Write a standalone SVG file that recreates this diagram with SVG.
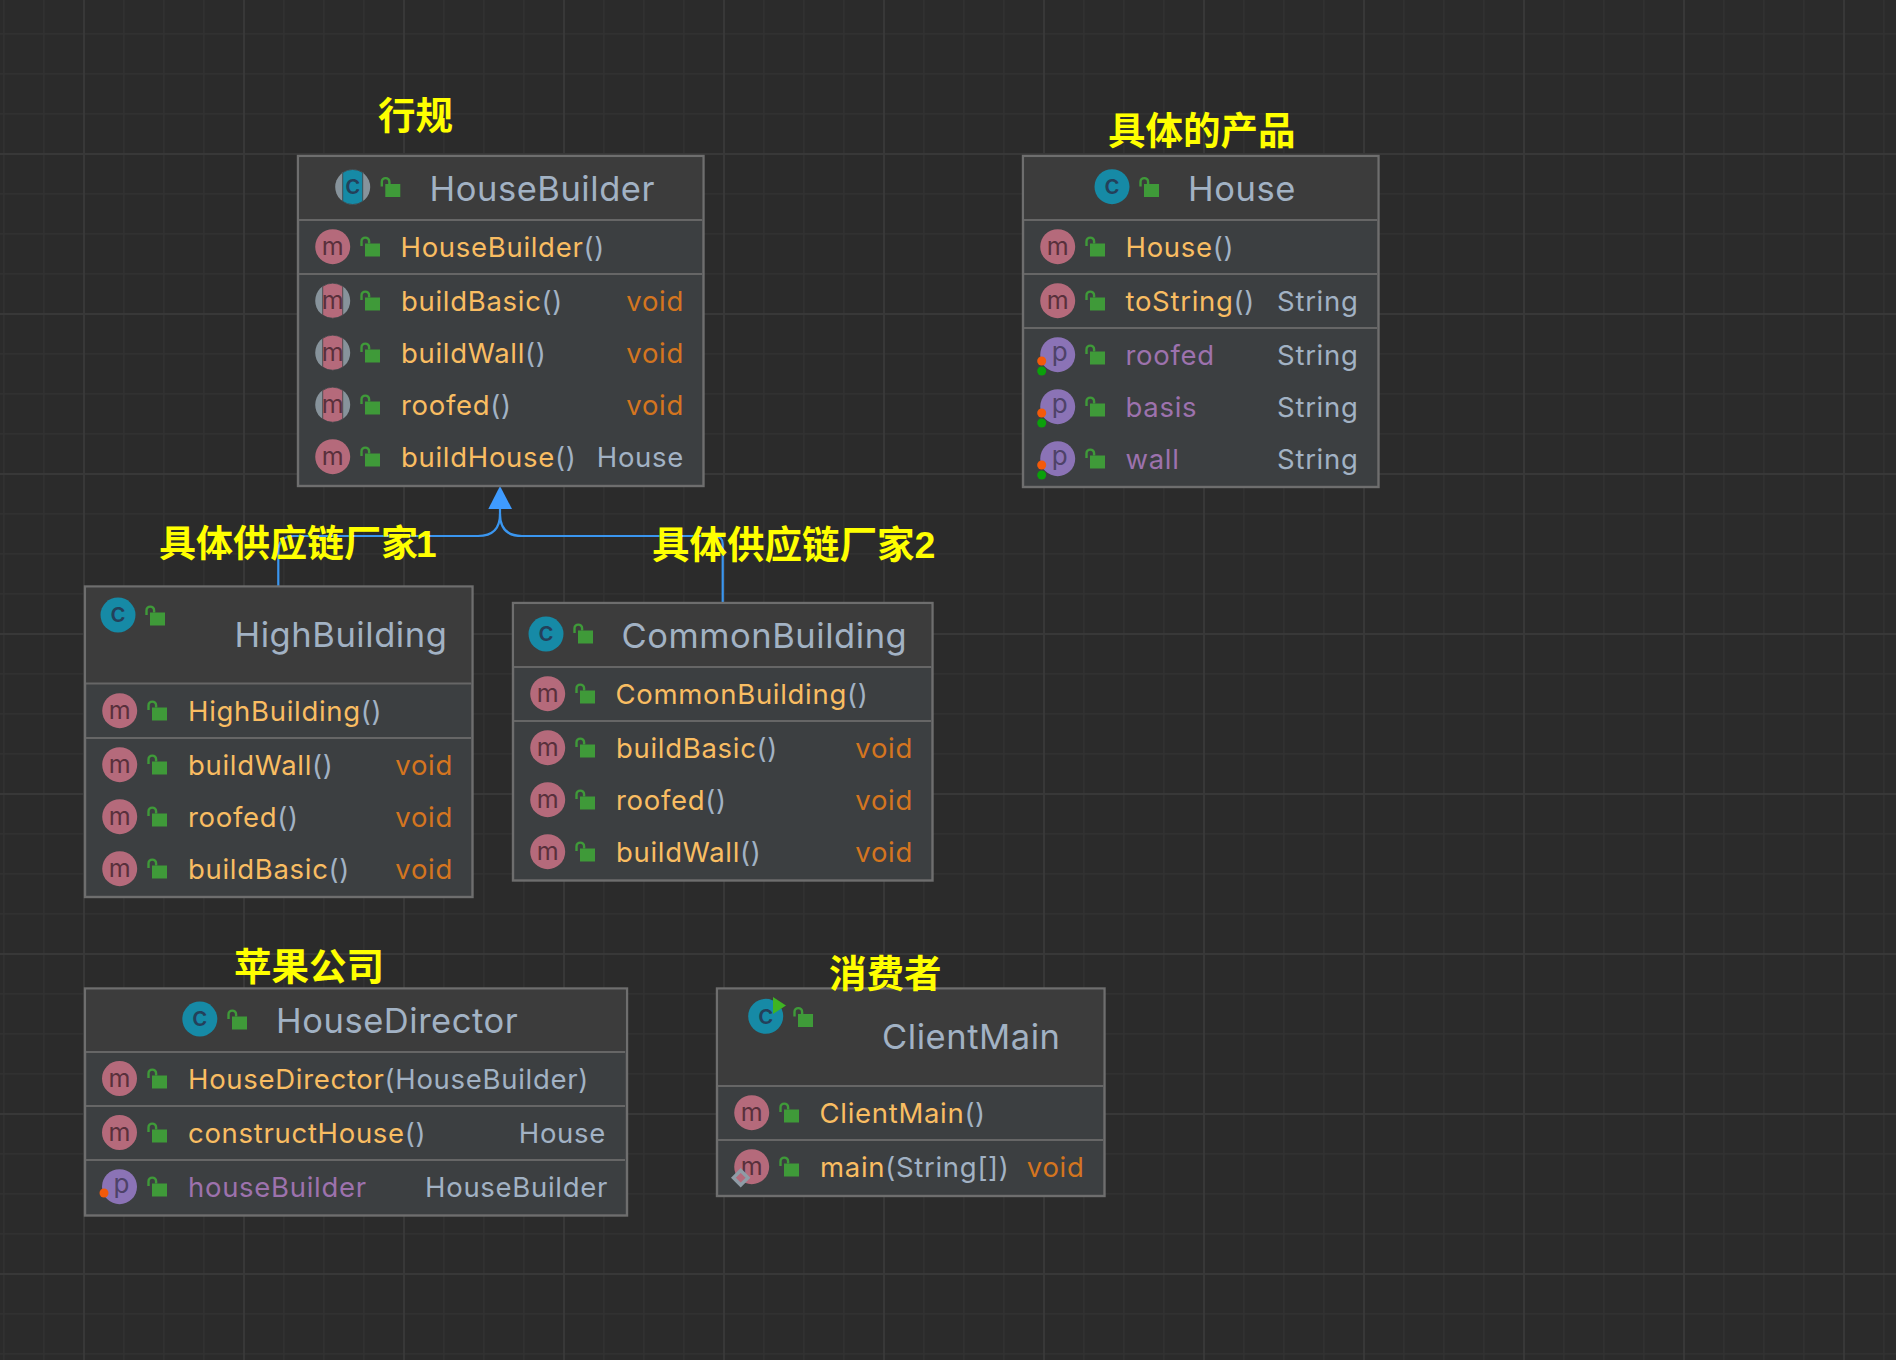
<svg xmlns="http://www.w3.org/2000/svg" width="1896" height="1360" viewBox="0 0 1896 1360">
<style>
text{font-family:Inter,"Noto Sans",sans-serif}
.box{fill:#3c3f41;stroke:#6e6e6e;stroke-width:2.4}
.head{fill:#3c3c3c}
.sep{stroke:#666;stroke-width:2}
.title{font-size:34.5px;letter-spacing:.55px;fill:#a2b2c4}
.mem{font-size:27.5px;letter-spacing:.7px}
.fn{fill:#f9bd62}
.par{fill:#a2b2c4}
.ty{fill:#a2b2c4}
.vo{fill:#d4751f}
.pr{fill:#9d72ad}
.end{text-anchor:end}
.ic{font-size:25px;text-anchor:middle}
.mi{fill:#b56a7b}
.ci{fill:#168aa6}
.pi{fill:#8b73b6}
.gr{fill:#87939b}
.ml{fill:#59303c}
.cl{fill:#24405a;font-size:27px;font-weight:500}
.pl{fill:#4e4268;font-size:26px}
.or{fill:#f35a0a}
.gn{fill:#0ba00b}
.lbl{font-family:"Liberation Sans","Noto Sans CJK SC",sans-serif;font-size:37.5px;font-weight:700;fill:#ffff00}
.lk{fill:none;stroke:#3f9a39;stroke-width:2.4}
.conn{fill:none;stroke:#3a96f0;stroke-width:2.2}
</style>
<defs>
<pattern id="minor" patternUnits="userSpaceOnUse" x="3" y="-7" width="40" height="40"><rect width="40" height="40" fill="#2b2b2b"/><rect width="1.6" height="40" fill="#313131"/><rect width="40" height="1.6" fill="#313131"/></pattern>
<pattern id="major" patternUnits="userSpaceOnUse" x="83" y="153" width="160" height="160"><rect width="2" height="160" fill="#383838"/><rect width="160" height="2" fill="#383838"/></pattern>
<g id="lock"><rect x="0" y="-3.5" width="15" height="13" fill="#3f9a39"/><path class="lk" d="M-3.5,-1 V-5.6 a3.8,3.8 0 0 1 7.6,0 V-3.5"/></g>
<path id="band" d="M-10,-14.4 A17.5,17.5 0 0 1 10,-14.4 V14.4 A17.5,17.5 0 0 1 -10,14.4 Z" stroke="#3c3f41" stroke-width="0.8"/>
</defs>
<rect width="1896" height="1360" fill="url(#minor)"/>
<rect width="1896" height="1360" fill="url(#major)"/>

<g id="connectors">
<path class="conn" d="M278.3,586 V552 Q278.3,536 294,536 H478 Q500,536 500,514 V506"/>
<path class="conn" d="M722.7,602.5 V544 Q722.7,536 714,536 H522 Q500,536 500,514"/>
<path d="M500,486 L488.3,509 H512 Z" fill="#3f9bff"/>
</g>

<g id="HouseBuilder">
<rect class="box" x="298" y="156" width="405.5" height="330"/>
<rect class="head" x="299.2" y="157.2" width="403" height="62"/>
<line class="sep" x1="299" x2="702" y1="220" y2="220"/><line class="sep" x1="299" x2="702" y1="274" y2="274"/>
<circle class="gr" cx="352.7" cy="187" r="17.5"/><use href="#band" class="ci" x="352.7" y="187"/><text class="ic cl" x="352.7" y="194">c</text><use href="#lock" x="385.3" y="187.5"/>
<text class="title" x="429.5" y="200.5">HouseBuilder</text>
<circle class="mi" cx="332.7" cy="246.7" r="17.5"/><text class="ic ml" x="332.7" y="254.7">m</text><use href="#lock" x="365" y="247"/>
<text class="mem fn" x="400.5" y="256.7">HouseBuilder<tspan class="par">()</tspan></text>
<circle class="gr" cx="332.7" cy="300.7" r="17.5"/><use href="#band" class="mi" x="332.7" y="300.7"/><text class="ic ml" x="332.7" y="308.7">m</text><use href="#lock" x="365" y="301"/>
<text class="mem fn" x="401" y="310.5">buildBasic<tspan class="par">()</tspan></text><text class="mem vo end" x="684" y="310.5">void</text>
<circle class="gr" cx="332.7" cy="352.7" r="17.5"/><use href="#band" class="mi" x="332.7" y="352.7"/><text class="ic ml" x="332.7" y="360.7">m</text><use href="#lock" x="365" y="353"/>
<text class="mem fn" x="401" y="362.5">buildWall<tspan class="par">()</tspan></text><text class="mem vo end" x="684" y="362.5">void</text>
<circle class="gr" cx="332.7" cy="404.7" r="17.5"/><use href="#band" class="mi" x="332.7" y="404.7"/><text class="ic ml" x="332.7" y="412.7">m</text><use href="#lock" x="365" y="405"/>
<text class="mem fn" x="401" y="414.5">roofed<tspan class="par">()</tspan></text><text class="mem vo end" x="684" y="414.5">void</text>
<circle class="mi" cx="332.7" cy="456.7" r="17.5"/><text class="ic ml" x="332.7" y="464.7">m</text><use href="#lock" x="365" y="457"/>
<text class="mem fn" x="401" y="466.5">buildHouse<tspan class="par">()</tspan></text><text class="mem ty end" x="684" y="466.5">House</text>
</g>

<g id="House">
<rect class="box" x="1023" y="156" width="355.5" height="331"/>
<rect class="head" x="1024.2" y="157.2" width="353" height="62"/>
<line class="sep" x1="1024" x2="1377" y1="220" y2="220"/><line class="sep" x1="1024" x2="1377" y1="274" y2="274"/><line class="sep" x1="1024" x2="1377" y1="328" y2="328"/>
<circle class="ci" cx="1112" cy="186.7" r="17.5"/><text class="ic cl" x="1112" y="194">c</text><use href="#lock" x="1144" y="187.5"/>
<text class="title" x="1188" y="200.5">House</text>
<circle class="mi" cx="1057.7" cy="246.7" r="17.5"/><text class="ic ml" x="1057.7" y="254.7">m</text><use href="#lock" x="1090" y="247"/>
<text class="mem fn" x="1125.5" y="256.7">House<tspan class="par">()</tspan></text>
<circle class="mi" cx="1057.7" cy="300.7" r="17.5"/><text class="ic ml" x="1057.7" y="308.7">m</text><use href="#lock" x="1090" y="301"/>
<text class="mem fn" x="1125.5" y="310.5">toString<tspan class="par">()</tspan></text><text class="mem ty end" x="1358.5" y="310.5">String</text>
<circle class="pi" cx="1057.7" cy="354.7" r="17.5"/><text class="ic pl" x="1059.7" y="361">p</text><circle class="or" cx="1041.7" cy="361" r="4.5"/><circle class="gn" cx="1041.7" cy="371" r="4.5"/><use href="#lock" x="1090" y="355"/>
<text class="mem pr" x="1125.5" y="364.5">roofed</text><text class="mem ty end" x="1358.5" y="364.5">String</text>
<circle class="pi" cx="1057.7" cy="406.7" r="17.5"/><text class="ic pl" x="1059.7" y="413">p</text><circle class="or" cx="1041.7" cy="413" r="4.5"/><circle class="gn" cx="1041.7" cy="423" r="4.5"/><use href="#lock" x="1090" y="407"/>
<text class="mem pr" x="1125.5" y="416.5">basis</text><text class="mem ty end" x="1358.5" y="416.5">String</text>
<circle class="pi" cx="1057.7" cy="458.7" r="17.5"/><text class="ic pl" x="1059.7" y="465">p</text><circle class="or" cx="1041.7" cy="465" r="4.5"/><circle class="gn" cx="1041.7" cy="475" r="4.5"/><use href="#lock" x="1090" y="459"/>
<text class="mem pr" x="1125.5" y="468.5">wall</text><text class="mem ty end" x="1358.5" y="468.5">String</text>
</g>

<g id="HighBuilding">
<rect class="box" x="85" y="586.5" width="387.5" height="310.5"/>
<rect class="head" x="86.2" y="587.7" width="385" height="95"/>
<line class="sep" x1="86" x2="471" y1="683.5" y2="683.5"/><line class="sep" x1="86" x2="471" y1="738" y2="738"/>
<circle class="ci" cx="118" cy="615" r="17.5"/><text class="ic cl" x="118" y="622">c</text><use href="#lock" x="150" y="616"/>
<text class="title" x="234.5" y="646.7">HighBuilding</text>
<circle class="mi" cx="119.7" cy="710.7" r="17.5"/><text class="ic ml" x="119.7" y="718.7">m</text><use href="#lock" x="152" y="711"/>
<text class="mem fn" x="188" y="720.7">HighBuilding<tspan class="par">()</tspan></text>
<circle class="mi" cx="119.7" cy="764.7" r="17.5"/><text class="ic ml" x="119.7" y="772.7">m</text><use href="#lock" x="152" y="765"/>
<text class="mem fn" x="188" y="774.7">buildWall<tspan class="par">()</tspan></text><text class="mem vo end" x="453" y="774.7">void</text>
<circle class="mi" cx="119.7" cy="816.7" r="17.5"/><text class="ic ml" x="119.7" y="824.7">m</text><use href="#lock" x="152" y="817"/>
<text class="mem fn" x="188" y="826.7">roofed<tspan class="par">()</tspan></text><text class="mem vo end" x="453" y="826.7">void</text>
<circle class="mi" cx="119.7" cy="868.7" r="17.5"/><text class="ic ml" x="119.7" y="876.7">m</text><use href="#lock" x="152" y="869"/>
<text class="mem fn" x="188" y="878.7">buildBasic<tspan class="par">()</tspan></text><text class="mem vo end" x="453" y="878.7">void</text>
</g>

<g id="CommonBuilding">
<rect class="box" x="513" y="603" width="419.5" height="277.5"/>
<rect class="head" x="514.2" y="604.2" width="417" height="62"/>
<line class="sep" x1="514" x2="931" y1="667" y2="667"/><line class="sep" x1="514" x2="931" y1="721" y2="721"/>
<circle class="ci" cx="546" cy="634" r="17.5"/><text class="ic cl" x="546" y="641">c</text><use href="#lock" x="578" y="634"/>
<text class="title" x="621.5" y="647.5">CommonBuilding</text>
<circle class="mi" cx="547.7" cy="693.7" r="17.5"/><text class="ic ml" x="547.7" y="701.7">m</text><use href="#lock" x="580" y="694"/>
<text class="mem fn" x="615.5" y="703.8">CommonBuilding<tspan class="par">()</tspan></text>
<circle class="mi" cx="547.7" cy="747.7" r="17.5"/><text class="ic ml" x="547.7" y="755.7">m</text><use href="#lock" x="580" y="748"/>
<text class="mem fn" x="616" y="757.8">buildBasic<tspan class="par">()</tspan></text><text class="mem vo end" x="913" y="757.8">void</text>
<circle class="mi" cx="547.7" cy="799.7" r="17.5"/><text class="ic ml" x="547.7" y="807.7">m</text><use href="#lock" x="580" y="800"/>
<text class="mem fn" x="616" y="809.8">roofed<tspan class="par">()</tspan></text><text class="mem vo end" x="913" y="809.8">void</text>
<circle class="mi" cx="547.7" cy="851.7" r="17.5"/><text class="ic ml" x="547.7" y="859.7">m</text><use href="#lock" x="580" y="852"/>
<text class="mem fn" x="616" y="861.8">buildWall<tspan class="par">()</tspan></text><text class="mem vo end" x="913" y="861.8">void</text>
</g>

<g id="HouseDirector">
<rect class="box" x="85" y="988.5" width="542" height="227"/>
<rect class="head" x="86.2" y="989.7" width="539.6" height="61"/>
<line class="sep" x1="86" x2="625" y1="1052" y2="1052"/><line class="sep" x1="86" x2="625" y1="1106" y2="1106"/><line class="sep" x1="86" x2="625" y1="1160" y2="1160"/>
<circle class="ci" cx="199.8" cy="1019" r="17.5"/><text class="ic cl" x="199.8" y="1026.3">c</text><use href="#lock" x="232" y="1020"/>
<text class="title" x="276" y="1032.5">HouseDirector</text>
<circle class="mi" cx="119.5" cy="1078.5" r="17.5"/><text class="ic ml" x="119.5" y="1086.5">m</text><use href="#lock" x="152" y="1079"/>
<text class="mem fn" x="188" y="1089">HouseDirector<tspan class="par">(HouseBuilder)</tspan></text>
<circle class="mi" cx="119.5" cy="1132.5" r="17.5"/><text class="ic ml" x="119.5" y="1140.5">m</text><use href="#lock" x="152" y="1133"/>
<text class="mem fn" x="188" y="1142.8">constructHouse<tspan class="par">()</tspan></text><text class="mem ty end" x="606" y="1142.8">House</text>
<circle class="pi" cx="119.5" cy="1186.7" r="17.5"/><text class="ic pl" x="121.5" y="1193">p</text><circle class="or" cx="104" cy="1193" r="4.5"/><use href="#lock" x="152" y="1187"/>
<text class="mem pr" x="188" y="1196.8">houseBuilder</text><text class="mem ty end" x="608" y="1196.8">HouseBuilder</text>
</g>

<g id="ClientMain">
<rect class="box" x="717" y="988.5" width="387.5" height="207.5"/>
<rect class="head" x="718.2" y="989.7" width="385" height="95"/>
<line class="sep" x1="718" x2="1103" y1="1086" y2="1086"/><line class="sep" x1="718" x2="1103" y1="1140" y2="1140"/>
<circle class="ci" cx="765.7" cy="1016.3" r="17.5"/><text class="ic cl" x="765.7" y="1023.5">c</text><path d="M773,997 L786,1005.5 L773,1014 Z" fill="#3fb423"/><use href="#lock" x="798" y="1017.5"/>
<text class="title" x="882" y="1048.8">ClientMain</text>
<circle class="mi" cx="751.7" cy="1112.7" r="17.5"/><text class="ic ml" x="751.7" y="1120.7">m</text><use href="#lock" x="784" y="1113"/>
<text class="mem fn" x="819.5" y="1122.7">ClientMain<tspan class="par">()</tspan></text>
<circle class="mi" cx="751.7" cy="1166.7" r="17.5"/><text class="ic ml" x="751.7" y="1174.7">m</text><use href="#lock" x="784" y="1167"/>
<path d="M740.7,1170.5 L748,1177.8 L740.7,1185 L733.4,1177.8 Z" fill="#b56a7b" stroke="#8f9ca6" stroke-width="3.4"/>
<text class="mem fn" x="820" y="1176.7">main<tspan class="par">(String[])</tspan></text><text class="mem vo end" x="1084.5" y="1176.7">void</text>
</g>

<g id="labels">
<text class="lbl" x="378" y="128.5">行规</text>
<text class="lbl" x="1108" y="143.5">具体的产品</text>
<text class="lbl" x="159" y="556.5" style="font-size:37px">具体供应链厂家<tspan dx="-2">1</tspan></text>
<text class="lbl" x="652" y="557.5">具体供应链厂家2</text>
<text class="lbl" x="234" y="979.5">苹果公司</text>
<text class="lbl" x="829" y="986.5">消费者</text>
</g>
</svg>
